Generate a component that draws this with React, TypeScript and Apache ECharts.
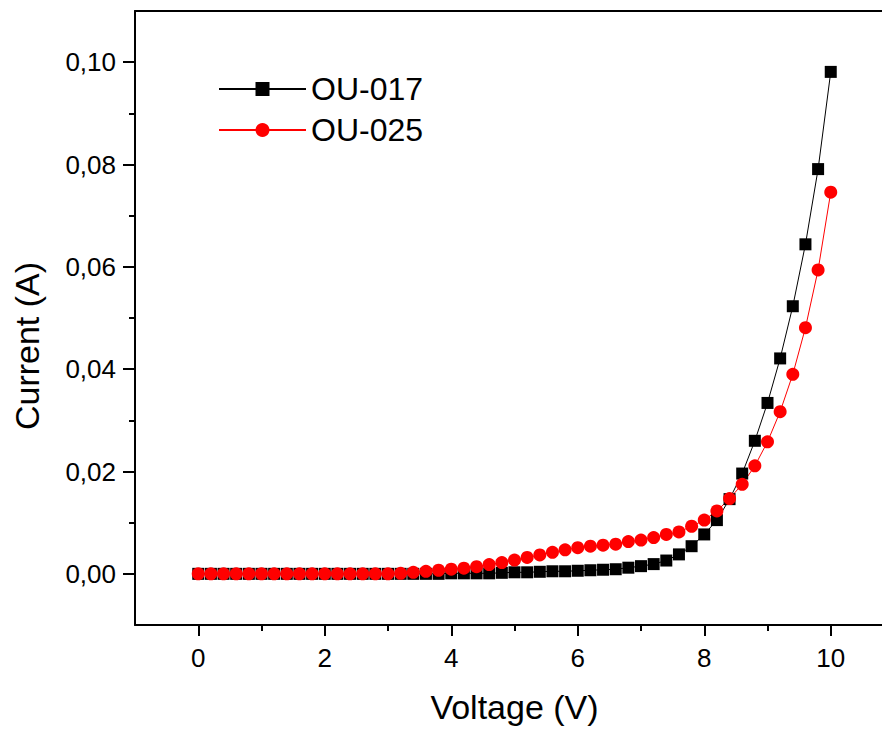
import { useEffect, useRef } from "react";
import * as echarts from "echarts";

const voltage = [
  0, 0.2, 0.4, 0.6, 0.8, 1, 1.2, 1.4, 1.6, 1.8, 2, 2.2, 2.4, 2.6, 2.8, 3, 3.2, 3.4, 3.6, 3.8,
  4, 4.2, 4.4, 4.6, 4.8, 5, 5.2, 5.4, 5.6, 5.8, 6, 6.2, 6.4, 6.6, 6.8, 7, 7.2, 7.4, 7.6, 7.8,
  8, 8.2, 8.4, 8.6, 8.8, 9, 9.2, 9.4, 9.6, 9.8, 10,
];

const ou017 = [
  0, 0, 0, 0, 0, 0, 0, 0, 0, 0, 0, 0, 0, 0, 0, 0, 0, 0, 0, 0,
  0.0001, 0.0001, 0.0001, 0.0001, 0.0002,
  0.0003, 0.0003, 0.0004, 0.0005, 0.0005,
  0.0006, 0.0007, 0.0008, 0.0009, 0.0012,
  0.0015, 0.0019, 0.0026, 0.0038, 0.0054,
  0.0077, 0.0105, 0.0146, 0.0196, 0.026,
  0.0334, 0.0421, 0.0523, 0.0644, 0.0791,
  0.0981,
];

const ou025 = [
  0, 0, 0, 0, 0, 0, 0, 0, 0, 0, 0, 0, 0, 0, 0, 0,
  0.0001, 0.0003, 0.0005, 0.0007,
  0.0009, 0.0011, 0.0014, 0.0018, 0.0022,
  0.0027, 0.0032, 0.0037, 0.0042, 0.0047,
  0.0051, 0.0054, 0.0056, 0.0058, 0.0063,
  0.0066, 0.0071, 0.0077, 0.0082, 0.0093,
  0.0105, 0.0123, 0.0147, 0.0175, 0.0211,
  0.0258, 0.0317, 0.039, 0.0481, 0.0594,
  0.0746,
];

const xMajorTicks = [0, 2, 4, 6, 8, 10];
const yMajorTicks = [0, 0.02, 0.04, 0.06, 0.08, 0.1];

const FONT = '"Liberation Sans", Arial, sans-serif';

const isIn = (arr: number[], v: number) => arr.some((t) => Math.abs(t - v) < 1e-9);

export default function App() {
  const ref = useRef<HTMLDivElement>(null);
  useEffect(() => {
    document.body.style.margin = "0";
    const chart = echarts.init(ref.current!, null, { renderer: "svg" });
    const axisLineStyle = { color: "#000", width: 2 };
    chart.setOption({
      animation: false,
      backgroundColor: "#fff",
      textStyle: { fontFamily: FONT, color: "#000" },
      grid: { left: 135, top: 11, width: 759, height: 618, containLabel: false },
      legend: {
        orient: "vertical",
        left: 213,
        top: 68,
        itemWidth: 87,
        itemHeight: 17.5,
        itemGap: 9,
        textStyle: { fontSize: 32, color: "#000", fontFamily: FONT, lineHeight: 32 },
        data: ["OU-017", "OU-025"],
      },
      xAxis: [
        {
          type: "value",
          min: -1,
          max: 11,
          splitNumber: 6,
          position: "bottom",
          axisLine: { show: true, onZero: false, lineStyle: axisLineStyle },
          axisTick: { show: true, inside: false, length: 11, customValues: xMajorTicks, lineStyle: axisLineStyle },
          minorTick: { show: true, splitNumber: 2, length: 6, lineStyle: axisLineStyle },
          axisLabel: {
            customValues: xMajorTicks,
            margin: 20,
            fontSize: 26,
            color: "#000",
            fontFamily: FONT,
            formatter: (v: number) => (isIn(xMajorTicks, v) ? String(v) : ""),
          },
          splitLine: { show: false },
          minorSplitLine: { show: false },
          name: "Voltage (V)",
          nameLocation: "middle",
          nameGap: 82,
          nameTextStyle: { fontSize: 34, color: "#000", fontFamily: FONT, verticalAlign: "middle" },
        },
        {
          type: "value",
          min: -1,
          max: 11,
          position: "top",
          axisLine: { show: true, onZero: false, lineStyle: axisLineStyle },
          axisTick: { show: false },
          axisLabel: { show: false },
          splitLine: { show: false },
        },
      ],
      yAxis: [
        {
          type: "value",
          min: -0.01,
          max: 0.11,
          splitNumber: 6,
          position: "left",
          axisLine: { show: true, onZero: false, lineStyle: axisLineStyle },
          axisTick: { show: true, inside: false, length: 12, customValues: yMajorTicks, lineStyle: axisLineStyle },
          minorTick: { show: true, splitNumber: 2, length: 6, lineStyle: axisLineStyle },
          axisLabel: {
            customValues: yMajorTicks,
            margin: 19,
            fontSize: 26,
            color: "#000",
            fontFamily: FONT,
            formatter: (v: number) => (isIn(yMajorTicks, v) ? v.toFixed(2).replace(".", ",") : ""),
          },
          splitLine: { show: false },
          minorSplitLine: { show: false },
        },
      ],
      graphic: [
        {
          type: "text",
          x: 27,
          y: 346,
          rotation: Math.PI / 2,
          style: {
            text: "Current (A)",
            fontSize: 34,
            fontFamily: FONT,
            fill: "#000",
            align: "center",
            verticalAlign: "middle",
            textAlign: "center",
            textVerticalAlign: "middle",
          },
        },
      ],
      series: [
        {
          name: "OU-017",
          type: "line",
          xAxisIndex: 0,
          yAxisIndex: 0,
          data: voltage.map((v, i) => [v, ou017[i]]),
          symbol: "rect",
          symbolSize: 12,
          showAllSymbol: true,
          color: "#000",
          itemStyle: { color: "#000" },
          lineStyle: { color: "#000", width: 1 },
          emphasis: { disabled: true },
        },
        {
          name: "OU-025",
          type: "line",
          xAxisIndex: 0,
          yAxisIndex: 0,
          data: voltage.map((v, i) => [v, ou025[i]]),
          symbol: "circle",
          symbolSize: 13,
          showAllSymbol: true,
          color: "#ff0000",
          itemStyle: { color: "#ff0000" },
          lineStyle: { color: "#ff0000", width: 1 },
          emphasis: { disabled: true },
        },
      ],
    });
    return () => chart.dispose();
  }, []);
  return (
    <div style={{ width: 882, height: 729, overflow: "hidden" }}>
      <div ref={ref} style={{ width: 900, height: 729 }} />
    </div>
  );
}
